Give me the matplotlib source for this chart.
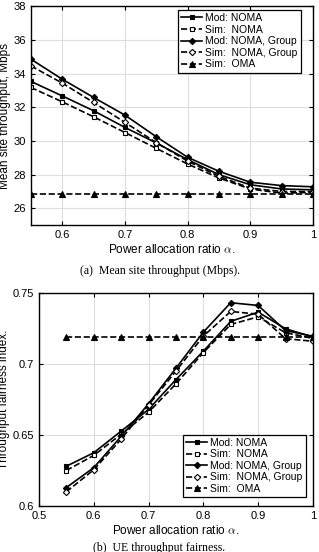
import numpy as np
import matplotlib
matplotlib.use("Agg")
import matplotlib.pyplot as plt

plt.rcParams['font.family'] = ['Liberation Sans', 'DejaVu Sans']
plt.rcParams['mathtext.fontset'] = 'cm'

alpha = [0.55, 0.6, 0.65, 0.7, 0.75, 0.8, 0.85, 0.9, 0.95, 1.0]

# (a) mean site throughput, Mbps
thr_mod_noma = [33.53, 32.67, 31.79, 30.80, 29.88, 28.89, 28.00, 27.40, 27.15, 27.10]
thr_sim_noma = [33.17, 32.32, 31.43, 30.50, 29.56, 28.63, 27.80, 27.15, 26.90, 26.95]
thr_mod_grp = [34.85, 33.66, 32.58, 31.53, 30.25, 29.03, 28.20, 27.55, 27.35, 27.28]
thr_sim_grp = [34.45, 33.43, 32.28, 31.10, 29.90, 28.80, 27.90, 27.20, 27.00, 27.00]
thr_oma = [26.83] * 10

# (b) UE throughput fairness
fair_mod_noma = [0.628, 0.6375, 0.6527, 0.668, 0.689, 0.709, 0.730, 0.7365, 0.7248, 0.719]
fair_sim_noma = [0.625, 0.6356, 0.6505, 0.666, 0.686, 0.708, 0.7278, 0.7332, 0.722, 0.718]
fair_mod_grp = [0.613, 0.627, 0.649, 0.672, 0.697, 0.7224, 0.7431, 0.7412, 0.7235, 0.7195]
fair_sim_grp = [0.610, 0.6255, 0.647, 0.671, 0.695, 0.7196, 0.737, 0.735, 0.7178, 0.716]
fair_oma = [0.719] * 10

labels = ['Mod: NOMA', 'Sim:  NOMA', 'Mod: NOMA, Group', 'Sim:  NOMA, Group', 'Sim:  OMA']
styles = [
    dict(ls='-', marker='s', mfc='k', ms=3.5),
    dict(ls='--', marker='s', mfc='white', ms=3.5),
    dict(ls='-', marker='D', mfc='k', ms=3.2),
    dict(ls='--', marker='D', mfc='white', ms=3.2),
    dict(ls='--', marker='^', mfc='k', ms=3.8),
]

fig = plt.figure(figsize=(3.19, 5.52), dpi=100)
ax1 = fig.add_axes([0.097, 0.592, 0.884, 0.397])
ax2 = fig.add_axes([0.122, 0.0833, 0.859, 0.386])


def draw(ax, series):
    for ys, lab, st in zip(series, labels, styles):
        ax.plot(alpha, ys, color='k', lw=1.2, mec='k', mew=0.8, label=lab, **st)
    ax.grid(True, color='#dddddd', lw=0.8)
    ax.set_axisbelow(True)
    ax.tick_params(direction='in', labelsize=8, length=3, top=True, right=True)
    for s in ax.spines.values():
        s.set_linewidth(1.0)
    ax.set_xlabel(r'Power allocation ratio $\alpha$.', fontsize=8.5, labelpad=2)


draw(ax1, [thr_mod_noma, thr_sim_noma, thr_mod_grp, thr_sim_grp, thr_oma])
ax1.set_xlim(0.55, 1.0)
ax1.set_ylim(25, 38)
ax1.set_xticks([0.6, 0.7, 0.8, 0.9, 1.0])
ax1.set_xticklabels(['0.6', '0.7', '0.8', '0.9', '1'])
ax1.set_yticks([26, 28, 30, 32, 34, 36, 38])
ax1.set_ylabel('Mean site throughput, Mbps', fontsize=8.5, labelpad=2)
leg1 = ax1.legend(loc='upper right', bbox_to_anchor=(0.957, 0.982), fontsize=7.5,
                  handlelength=2.0, handletextpad=0.3, borderpad=0.3, labelspacing=0.15,
                  borderaxespad=0, fancybox=False, edgecolor='k', framealpha=1)
leg1.get_frame().set_linewidth(0.9)

draw(ax2, [fair_mod_noma, fair_sim_noma, fair_mod_grp, fair_sim_grp, fair_oma])
ax2.set_xlim(0.5, 1.0)
ax2.set_ylim(0.6, 0.75)
ax2.set_xticks([0.5, 0.6, 0.7, 0.8, 0.9, 1.0])
ax2.set_xticklabels(['0.5', '0.6', '0.7', '0.8', '0.9', '1'])
ax2.set_yticks([0.6, 0.65, 0.7, 0.75])
ax2.set_yticklabels(['0.6', '0.65', '0.7', '0.75'])
ax2.set_ylabel('Throughput fairness index.', fontsize=8.5, labelpad=2)
leg2 = ax2.legend(loc='lower right', bbox_to_anchor=(0.974, 0.042), fontsize=7.5,
                  handlelength=2.0, handletextpad=0.3, borderpad=0.3, labelspacing=0.15,
                  borderaxespad=0, fancybox=False, edgecolor='k', framealpha=1)
leg2.get_frame().set_linewidth(0.9)

fig.text(0.5, 0.509, '(a)  Mean site throughput (Mbps).', ha='center', va='center',
         fontsize=8.5, family=['Liberation Serif', 'DejaVu Serif'])
fig.text(0.5, 0.007, '(b)  UE throughput fairness.', ha='center', va='center',
         fontsize=8.5, family=['Liberation Serif', 'DejaVu Serif'])

fig.savefig('out.png', dpi=100)
